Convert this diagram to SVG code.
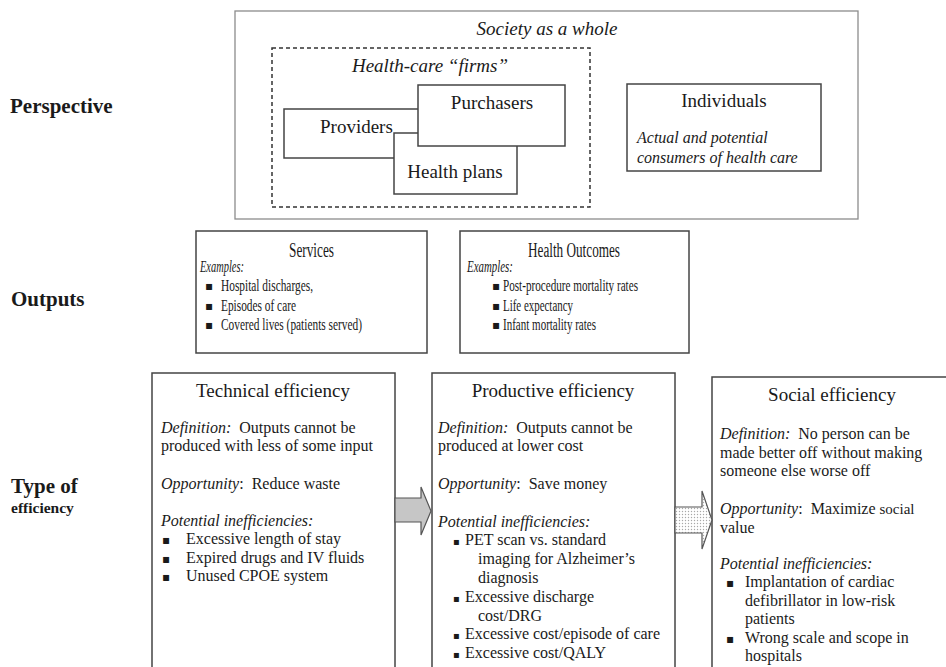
<svg xmlns="http://www.w3.org/2000/svg" width="946" height="667" viewBox="0 0 946 667">
<defs>
<pattern id="dots" width="3" height="3" patternUnits="userSpaceOnUse"><rect width="3" height="3" fill="#fff"/><circle cx="1.5" cy="1.5" r="0.7" fill="#a8a8a8"/></pattern>
<style>
text { font-family: 'Liberation Serif', 'DejaVu Serif', 'Times New Roman', serif; fill: #1a1a1a; }
.lbl { font-weight: bold; font-size: 21px; }
.box { fill: #fff; stroke: #444; stroke-width: 1.5; }
.t19 { font-size: 19px; }
.t16 { font-size: 16px; }
.o20 { font-size: 20px; }
.o17 { font-size: 17px; }
.it { font-style: italic; }
.mid { text-anchor: middle; }
.bul { font-family: 'DejaVu Sans', sans-serif; font-size: 12px; }
.arrow { stroke: #555; stroke-width: 1.2; stroke-linejoin: miter; }
</style>
</defs>
<rect width="946" height="667" fill="#fff"/>

<g id="row-labels">
<text x="10" y="113" class="lbl">Perspective</text>
<text x="11" y="306" class="lbl">Outputs</text>
<text x="11" y="493" class="lbl">Type of</text>
<text x="11" y="513" style="font-weight:bold;font-size:15.5px">efficiency</text>
</g>

<g id="society">
<rect x="235" y="11" width="623" height="208" fill="#fff" stroke="#8c8c8c" stroke-width="1.3"/>
<text x="547" y="35" class="t19 it mid">Society as a whole</text>
</g>

<g id="health-care-firms">
<rect x="272" y="48" width="318" height="159" fill="none" stroke="#333" stroke-width="1.5" stroke-dasharray="4,3"/>
<text x="430" y="72" class="t19 it mid">Health-care “firms”</text>
</g>

<g id="providers">
<rect x="284" y="109" width="150" height="49" class="box"/>
<text x="320" y="133" class="t19">Providers</text>
</g>

<g id="health-plans">
<rect x="394" y="133" width="123" height="61" class="box"/>
<text x="455" y="178" class="t19 mid">Health plans</text>
</g>

<g id="purchasers">
<rect x="418" y="85" width="147" height="61" class="box"/>
<text x="492" y="109" class="t19 mid">Purchasers</text>
</g>

<g id="individuals">
<rect x="627" y="84" width="194" height="87" class="box"/>
<text x="724" y="107" class="t19 mid">Individuals</text>
<text x="637" y="143" class="t16 it">Actual and potential</text>
<text x="637" y="163" class="t16 it">consumers of health care</text>
</g>

<g id="services">
<rect x="196" y="231" width="231" height="122" class="box"/>
<text x="289" y="257" class="o20" textLength="45" lengthAdjust="spacingAndGlyphs">Services</text>
<text x="200" y="272" class="o17 it" textLength="44" lengthAdjust="spacingAndGlyphs">Examples:</text>
<text x="205" y="290" class="bul">▪</text>
<text x="221" y="291" class="o17" textLength="92" lengthAdjust="spacingAndGlyphs">Hospital discharges,</text>
<text x="205" y="310" class="bul">▪</text>
<text x="221" y="311" class="o17" textLength="75" lengthAdjust="spacingAndGlyphs">Episodes of care</text>
<text x="205" y="329" class="bul">▪</text>
<text x="221" y="330" class="o17" textLength="141" lengthAdjust="spacingAndGlyphs">Covered lives (patients served)</text>
</g>

<g id="health-outcomes">
<rect x="460" y="231" width="229" height="122" class="box"/>
<text x="528" y="257" class="o20" textLength="92" lengthAdjust="spacingAndGlyphs">Health Outcomes</text>
<text x="467" y="272" class="o17 it" textLength="46" lengthAdjust="spacingAndGlyphs">Examples:</text>
<text x="492" y="290" class="bul">▪</text>
<text x="503" y="291" class="o17" textLength="135" lengthAdjust="spacingAndGlyphs">Post-procedure mortality rates</text>
<text x="492" y="310" class="bul">▪</text>
<text x="503" y="311" class="o17" textLength="70" lengthAdjust="spacingAndGlyphs">Life expectancy</text>
<text x="492" y="329" class="bul">▪</text>
<text x="503" y="330" class="o17" textLength="93" lengthAdjust="spacingAndGlyphs">Infant mortality rates</text>
</g>

<g id="technical-efficiency">
<rect x="152" y="373" width="243" height="310" class="box"/>
<text x="273" y="397" class="t19 mid">Technical efficiency</text>
<text x="161" y="433" class="t16"><tspan class="it">Definition:</tspan>&#160; Outputs cannot be</text>
<text x="161" y="451" class="t16">produced with less of some input</text>
<text x="161" y="489" class="t16"><tspan class="it">Opportunity</tspan>:&#160; Reduce waste</text>
<text x="161" y="526" class="t16 it">Potential inefficiencies:</text>
<text x="162" y="544" class="bul">▪</text>
<text x="186" y="544" class="t16">Excessive length of stay</text>
<text x="162" y="563" class="bul">▪</text>
<text x="186" y="563" class="t16">Expired drugs and IV fluids</text>
<text x="162" y="581" class="bul">▪</text>
<text x="186" y="581" class="t16">Unused CPOE system</text>
</g>

<g id="productive-efficiency">
<rect x="432" y="373" width="243" height="310" class="box"/>
<text x="553" y="397" class="t19 mid">Productive efficiency</text>
<text x="438" y="433" class="t16"><tspan class="it">Definition:</tspan>&#160; Outputs cannot be</text>
<text x="438" y="451" class="t16">produced at lower cost</text>
<text x="438" y="489" class="t16"><tspan class="it">Opportunity</tspan>:&#160; Save money</text>
<text x="438" y="527" class="t16 it">Potential inefficiencies:</text>
<text x="453" y="545" class="bul" style="font-size:10px">▪</text>
<text x="465" y="545" class="t16">PET scan vs. standard</text>
<text x="478" y="564" class="t16">imaging for Alzheimer’s</text>
<text x="478" y="583" class="t16">diagnosis</text>
<text x="453" y="602" class="bul" style="font-size:10px">▪</text>
<text x="465" y="602" class="t16">Excessive discharge</text>
<text x="478" y="621" class="t16">cost/DRG</text>
<text x="453" y="639" class="bul" style="font-size:10px">▪</text>
<text x="465" y="639" class="t16">Excessive cost/episode of care</text>
<text x="453" y="658" class="bul" style="font-size:10px">▪</text>
<text x="465" y="658" class="t16">Excessive cost/QALY</text>
</g>

<g id="social-efficiency">
<rect x="712" y="377" width="260" height="310" class="box"/>
<text x="832" y="401" class="t19 mid">Social efficiency</text>
<text x="720" y="439" class="t16"><tspan class="it">Definition:</tspan>&#160; No person can be</text>
<text x="720" y="458" class="t16">made better off without making</text>
<text x="720" y="476" class="t16">someone else worse off</text>
<text x="720" y="514" class="t16"><tspan class="it">Opportunity</tspan>:&#160; Maximize <tspan style="font-size:15px">social</tspan></text>
<text x="720" y="533" class="t16">value</text>
<text x="720" y="569" class="t16 it">Potential inefficiencies:</text>
<text x="726" y="587" class="bul">▪</text>
<text x="745" y="587" class="t16">Implantation of cardiac</text>
<text x="745" y="606" class="t16">defibrillator in low-risk</text>
<text x="745" y="624" class="t16">patients</text>
<text x="726" y="643" class="bul">▪</text>
<text x="745" y="643" class="t16">Wrong scale and scope in</text>
<text x="745" y="661" class="t16">hospitals</text>
</g>

<g id="connectors">
<polygon class="arrow" fill="#c6c6c6" points="395,498 421,498 421,487 431,511 421,535 421,522 395,522"/>
<polygon class="arrow" fill="url(#dots)" points="675,507 702,507 702,491 712,520 702,549 702,533 675,533"/>
</g>
</svg>
